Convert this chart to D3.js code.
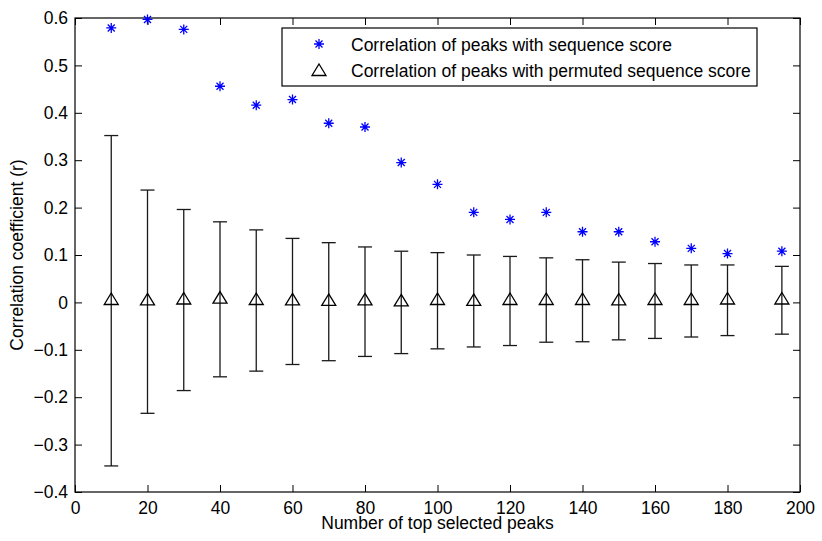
<!DOCTYPE html>
<html><head><meta charset="utf-8">
<script src="https://cdn.jsdelivr.net/npm/d3@7"></script>
<style>body{margin:0;background:#fff}svg{display:block}text{font-family:"Liberation Sans",Arial,sans-serif;fill:#000}</style>
</head><body><svg id="c" width="822" height="541"></svg>
<script>
const peaks = [10,20,30,40,50,60,70,80,90,100,110,120,130,140,150,160,170,180,195];
const seqCorr = [0.579,0.597,0.576,0.456,0.416,0.428,0.378,0.370,0.295,0.249,0.190,0.175,0.190,0.149,0.149,0.128,0.114,0.103,0.108];
const permMean = [0.003,0.002,0.004,0.006,0.003,0.002,0.001,0.002,0.000,0.003,0.001,0.003,0.003,0.003,0.002,0.003,0.003,0.004,0.004];
const permUpper = [0.352,0.237,0.196,0.170,0.153,0.135,0.126,0.117,0.108,0.105,0.100,0.097,0.094,0.090,0.085,0.082,0.079,0.079,0.076];
const permLower = [-0.345,-0.234,-0.186,-0.157,-0.145,-0.131,-0.123,-0.114,-0.108,-0.098,-0.094,-0.091,-0.084,-0.083,-0.079,-0.076,-0.073,-0.070,-0.067];
const xTicks = [0,20,40,60,80,100,120,140,160,180,200];
const yTicks = [-0.4,-0.3,-0.2,-0.1,0,0.1,0.2,0.3,0.4,0.5,0.6];
const legendLabels = ["Correlation of peaks with sequence score","Correlation of peaks with permuted sequence score"];
const xTitle = "Number of top selected peaks";
const yTitle = "Correlation coefficient (r)";

const L=75,R=800,T=18,B=492;
const svg=d3.select("#c");
const x=d3.scaleLinear().domain([0,200]).range([L,R]);
const y=d3.scaleLinear().domain([-0.4,0.6]).range([B,T]);
const fmt=v=>{const s=(Math.abs(v)<1e-9?"0":d3.format("")(+v.toFixed(1)));return s.replace("-","\u2212");};
const fs=17.5, tl=7;

// axes
svg.append("g").attr("transform",`translate(0,${B})`).call(d3.axisBottom(x).tickValues(xTicks).tickSize(-tl).tickPadding(tl+3).tickFormat(d=>d))
 .call(g=>{g.select(".domain").remove();g.selectAll("text").attr("font-size",fs).attr("font-family","Liberation Sans, Arial");});
svg.append("g").attr("transform",`translate(0,${T})`).call(d3.axisTop(x).tickValues(xTicks).tickSize(-tl).tickFormat(""))
 .call(g=>g.select(".domain").remove());
svg.append("g").attr("transform",`translate(${L},0)`).call(d3.axisLeft(y).tickValues(yTicks).tickSize(-tl).tickPadding(tl+0).tickFormat(fmt))
 .call(g=>{g.select(".domain").remove();g.selectAll("text").attr("font-size",fs).attr("font-family","Liberation Sans, Arial");});
svg.append("g").attr("transform",`translate(${R},0)`).call(d3.axisRight(y).tickValues(yTicks).tickSize(-tl).tickFormat(""))
 .call(g=>g.select(".domain").remove());
svg.selectAll(".tick line").attr("stroke","#000");
svg.append("rect").attr("x",L).attr("y",T).attr("width",R-L).attr("height",B-T).attr("fill","none").attr("stroke","#000").attr("stroke-width",1.2);

// error bars
const eb=svg.append("g").attr("stroke","#1a1a1a").attr("stroke-width",1.3).attr("fill","none");
peaks.forEach((p,i)=>{
  const cx=x(p);
  eb.append("line").attr("x1",cx).attr("x2",cx).attr("y1",y(permUpper[i])).attr("y2",y(permLower[i]));
  eb.append("line").attr("x1",cx-7).attr("x2",cx+7).attr("y1",y(permUpper[i])).attr("y2",y(permUpper[i]));
  eb.append("line").attr("x1",cx-7).attr("x2",cx+7).attr("y1",y(permLower[i])).attr("y2",y(permLower[i]));
});
const tri=(cx,cy)=>`M${cx},${cy-8}L${cx+7},${cy+3.5}L${cx-7},${cy+3.5}Z`;
svg.append("g").selectAll("path").data(peaks).join("path")
 .attr("d",(p,i)=>tri(x(p),y(permMean[i]))).attr("fill","none").attr("stroke","#000").attr("stroke-width",1.3);

// stars
const star=(cx,cy)=>{const r=5,d=3.5;return `M${cx-r},${cy}H${cx+r}M${cx},${cy-r}V${cy+r}M${cx-d},${cy-d}L${cx+d},${cy+d}M${cx-d},${cy+d}L${cx+d},${cy-d}`;};
svg.append("g").selectAll("path").data(peaks).join("path")
 .attr("d",(p,i)=>star(x(p),y(seqCorr[i]))).attr("stroke","#0000ff").attr("stroke-width",1.3).attr("fill","none");

// legend
const lg=svg.append("g");
lg.append("rect").attr("x",282).attr("y",28).attr("width",475).attr("height",58).attr("fill","#fff").attr("stroke","#000").attr("stroke-width",1.2);
lg.append("path").attr("d",star(319,44)).attr("stroke","#0000ff").attr("stroke-width",1.3).attr("fill","none");
lg.append("path").attr("d",tri(319,72)).attr("stroke","#000").attr("stroke-width",1.3).attr("fill","none");
legendLabels.forEach((t,i)=>lg.append("text").attr("x",351).attr("y",51+i*26).attr("font-size",fs).text(t));

// titles
svg.append("text").attr("x",(L+R)/2).attr("y",529).attr("text-anchor","middle").attr("font-size",fs).text(xTitle);
svg.append("text").attr("transform",`translate(23,${(T+B)/2}) rotate(-90)`).attr("text-anchor","middle").attr("font-size",fs).text(yTitle);
</script></body></html>
